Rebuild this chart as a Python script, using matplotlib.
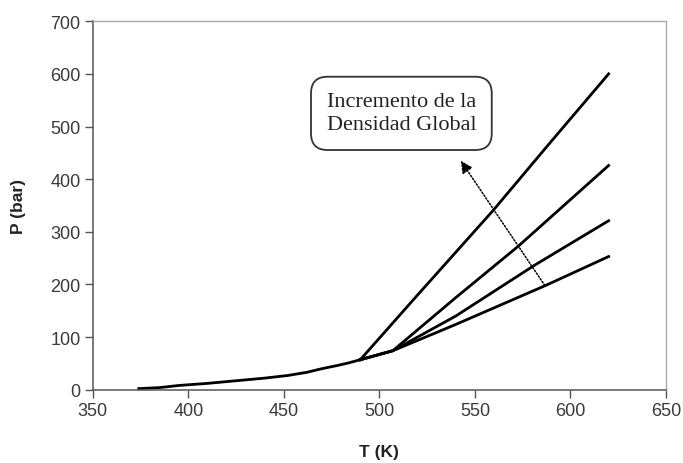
import matplotlib
matplotlib.use("Agg")
import matplotlib.pyplot as plt

# Shared low-temperature branch (T in K, P in bar)
t_common = [374, 385, 395, 410, 425, 440, 452, 462, 470, 478, 484, 490]
p_common = [2, 4, 8, 12, 17, 22, 27, 33, 40, 46, 51, 57]

# Isochores for increasing global density (lowest to highest)
t_low = [490, 498, 507, 540, 587, 620]
p_low = [57, 65, 74, 124, 198, 253]

t_mid = [490, 498, 507, 540, 581, 620]
p_mid = [57, 65, 74, 140, 236, 321]

t_high = [490, 498, 507, 540, 572.5, 620]
p_high = [57, 65, 74, 175, 272, 426]

t_top = [490, 520, 559.4, 590, 620]
p_top = [57, 180, 340, 472, 600]

x_ticks = [350, 400, 450, 500, 550, 600, 650]
y_ticks = [0, 100, 200, 300, 400, 500, 600, 700]

arrow_tail = (586.6, 198)
arrow_head = (542.6, 435)
note_pos = (511.5, 525)
note_text = "Incremento de la\nDensidad Global"

fig = plt.figure(figsize=(6.83, 4.64), dpi=100)
ax = fig.add_axes([0.136, 0.158, 0.839, 0.794])

line_kw = dict(color="black", lw=2.0, solid_joinstyle="round")
ax.plot(t_common, p_common, **line_kw)
for tx, py in [(t_low, p_low), (t_mid, p_mid), (t_high, p_high), (t_top, p_top)]:
    ax.plot(tx, py, **line_kw)

ax.set_xlim(350, 650)
ax.set_ylim(0, 700)
ax.set_xticks(x_ticks)
ax.set_yticks(y_ticks)

tick_font = dict(family=["Liberation Sans", "DejaVu Sans"], size=13)
ax.set_xticklabels([str(v) for v in x_ticks], color="#3a3a3a", **tick_font)
ax.set_yticklabels([str(v) for v in y_ticks], color="#3a3a3a", **tick_font)
ax.tick_params(axis="both", direction="out", length=6, width=1, color="#555555", pad=3)

for side in ["left", "bottom"]:
    ax.spines[side].set_color("#555555")
    ax.spines[side].set_linewidth(1.1)
for side in ["top", "right"]:
    ax.spines[side].set_color("#aaaaaa")
    ax.spines[side].set_linewidth(1.0)

label_font = dict(family=["Liberation Sans", "DejaVu Sans"], size=12.5, weight="bold", color="#222222")
ax.set_xlabel("T (K)", labelpad=18, **label_font)
ax.set_ylabel("P (bar)", labelpad=17, **label_font)

ax.annotate("", xy=arrow_head, xytext=arrow_tail,
            arrowprops=dict(arrowstyle="-|>", color="black", lw=1.1,
                            linestyle=(0, (1, 1.2)), mutation_scale=18,
                            shrinkA=0, shrinkB=0))

ax.text(note_pos[0], note_pos[1], note_text, ha="center", va="center",
        family=["Liberation Serif", "DejaVu Serif"], size=16, color="#222222",
        linespacing=1.3,
        bbox=dict(boxstyle="round,pad=0.7,rounding_size=0.75", fc="white",
                  ec="#333333", lw=1.3))

fig.savefig("out.png", dpi=100)
